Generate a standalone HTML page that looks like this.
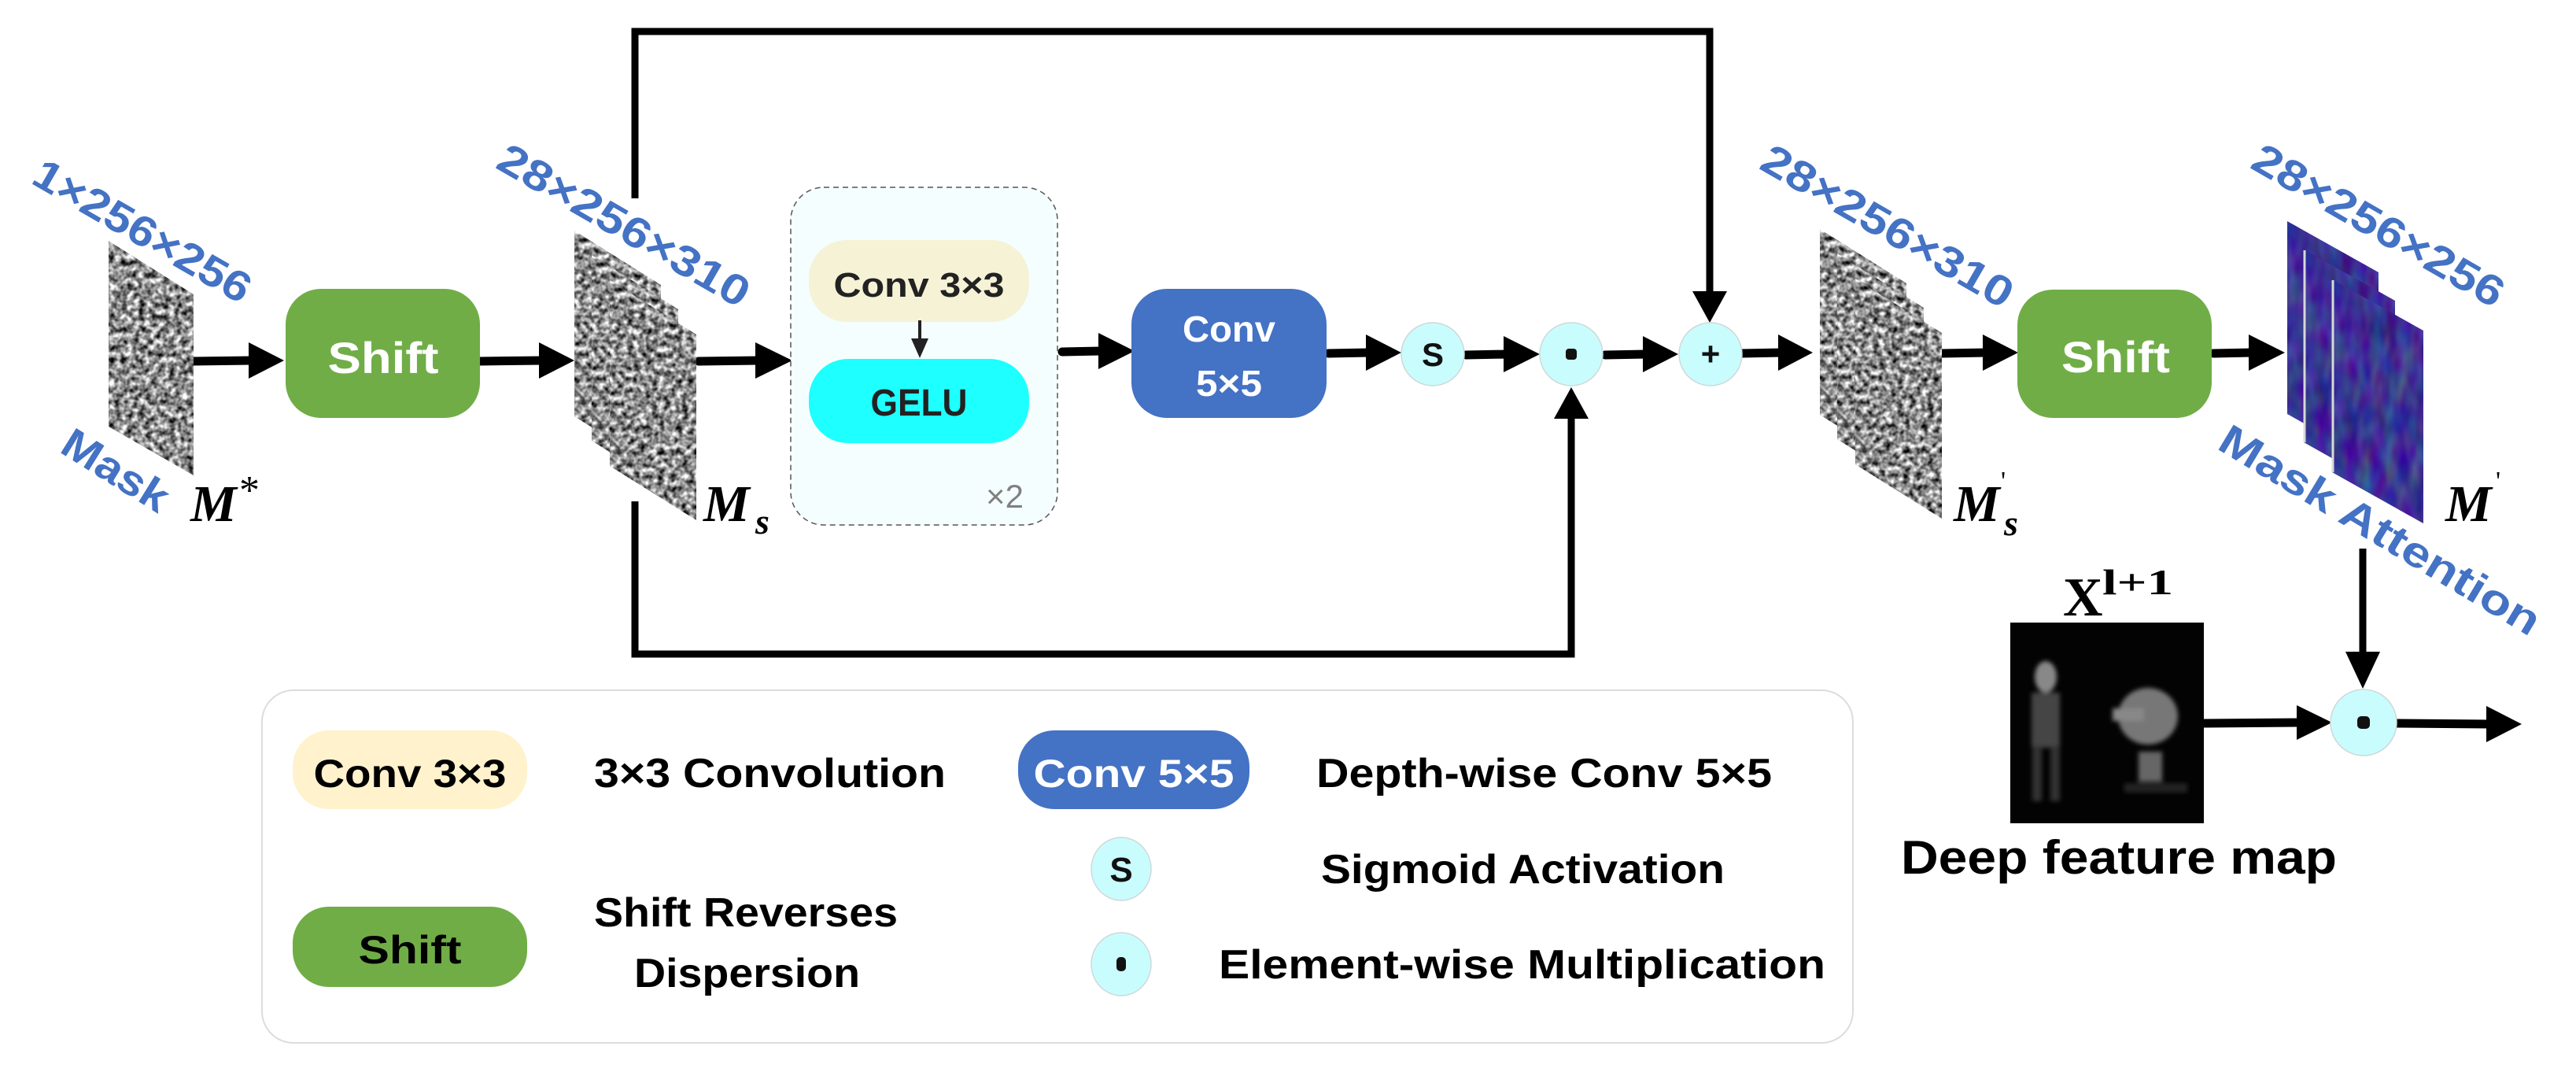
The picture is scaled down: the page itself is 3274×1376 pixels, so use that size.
<!DOCTYPE html>
<html><head><meta charset="utf-8"><style>
html,body{margin:0;padding:0;background:#fff;}
svg{display:block;}
.b{font-family:"Liberation Sans",sans-serif;font-weight:bold;}
.bl{font-family:"Liberation Sans",sans-serif;font-weight:bold;fill:#4472C4;font-size:54px;}
.m{font-family:"Liberation Serif",serif;font-weight:bold;font-style:italic;fill:#000;}
</style></head><body>
<svg width="3274" height="1376" viewBox="0 0 3274 1376" xmlns="http://www.w3.org/2000/svg">
<defs>
<filter id="gray" x="0" y="0" width="100%" height="100%" color-interpolation-filters="sRGB">
<feTurbulence type="fractalNoise" baseFrequency="0.13" numOctaves="2" seed="5" result="t"/>
<feColorMatrix in="t" type="matrix" values="1.7 0 0 0 -0.3  1.7 0 0 0 -0.3  1.7 0 0 0 -0.3  0 0 0 0 1"/>
</filter>
<filter id="blue" x="0" y="0" width="100%" height="100%" color-interpolation-filters="sRGB">
<feTurbulence type="fractalNoise" baseFrequency="0.06 0.025" numOctaves="2" seed="9" result="t"/>
<feColorMatrix in="t" type="matrix" values="0.3 0 0 0 0.08  0 0.5 0 0 -0.05  0 0 0.3 0 0.42  0 0 0 0 1"/>
</filter>
<clipPath id="c1"><polygon points="138,306 246,374 246,604 138,542"/></clipPath>
<clipPath id="cs0"><polygon points="0,0 110,69 110,305 0,236"/></clipPath>
<clipPath id="cb"><polygon points="0,0 116,65 116,310 0,245"/></clipPath>
<filter id="blur4"><feGaussianBlur stdDeviation="3"/></filter>
</defs>

<g stroke="#000" stroke-width="9" fill="none" stroke-linecap="butt">
<polyline points="807,252 807,40 2173,40 2173,372"/>
<polyline points="807,637 807,831 1997,831 1997,528"/>
<line x1="3003" y1="697" x2="3003" y2="830"/>
</g>
<g fill="#000">
<polygon points="2151,370 2195,370 2173,410"/>
<polygon points="1975,532 2019,532 1997,492"/>
<polygon points="2981,828 3025,828 3003,875"/>
</g>

<g stroke="#000" stroke-width="11" stroke-linecap="round">
<line x1="244" y1="459" x2="320" y2="458"/>
<line x1="609" y1="459" x2="690" y2="458"/>
<line x1="888" y1="459" x2="965" y2="458"/>
<line x1="1350" y1="447" x2="1400" y2="446"/>
<line x1="1688" y1="449" x2="1740" y2="448"/>
<line x1="1863" y1="451" x2="1915" y2="450"/>
<line x1="2040" y1="451" x2="2092" y2="450"/>
<line x1="2213" y1="449" x2="2265" y2="448"/>
<line x1="2468" y1="449" x2="2525" y2="448"/>
<line x1="2813" y1="449" x2="2862" y2="448"/>
<line x1="2802" y1="919" x2="2925" y2="918"/>
<line x1="3045" y1="919" x2="3165" y2="920"/>
</g>
<g fill="#000">
<polygon points="316,435 361,458 316,481"/>
<polygon points="685,435 730,458 685,481"/>
<polygon points="960,435 1007,458 960,481"/>
<polygon points="1396,423 1442,446 1396,469"/>
<polygon points="1736,425 1781,448 1736,471"/>
<polygon points="1911,427 1957,450 1911,473"/>
<polygon points="2088,427 2133,450 2088,473"/>
<polygon points="2260,425 2304,448 2260,471"/>
<polygon points="2520,425 2565,448 2520,471"/>
<polygon points="2858,425 2904,448 2858,471"/>
<polygon points="2919,896 2964,918 2919,940"/>
<polygon points="3160,897 3205,920 3160,943"/>
</g>

<g clip-path="url(#c1)"><rect x="130" y="300" width="130" height="310" fill="#888" filter="url(#gray)"/></g>

<g transform="translate(730,293)"><g clip-path="url(#cs0)"><rect width="120" height="310" filter="url(#gray)"/></g></g>
<g transform="translate(752,324)"><g clip-path="url(#cs0)"><rect width="120" height="310" filter="url(#gray)"/></g></g>
<g transform="translate(775,356)"><g clip-path="url(#cs0)"><rect width="120" height="310" filter="url(#gray)"/></g></g>
<g transform="translate(2313,291)"><g clip-path="url(#cs0)"><rect width="120" height="310" filter="url(#gray)"/></g></g>
<g transform="translate(2335,322)"><g clip-path="url(#cs0)"><rect width="120" height="310" filter="url(#gray)"/></g></g>
<g transform="translate(2358,354)"><g clip-path="url(#cs0)"><rect width="120" height="310" filter="url(#gray)"/></g></g>

<g transform="translate(2907,281)"><g clip-path="url(#cb)"><rect width="120" height="320" filter="url(#blue)"/></g></g>
<g transform="translate(2928,317)"><g clip-path="url(#cb)"><rect width="120" height="320" filter="url(#blue)"/></g></g>
<line x1="2929" y1="318" x2="2929" y2="562" stroke="#d8d8d8" stroke-width="3"/>
<g transform="translate(2964,355)"><g clip-path="url(#cb)"><rect width="120" height="320" filter="url(#blue)"/></g></g>
<line x1="2965" y1="356" x2="2965" y2="600" stroke="#d8d8d8" stroke-width="3"/>

<rect x="363" y="367" width="247" height="164" rx="45" fill="#70AD47"/>
<text x="487" y="474" class="b" font-size="56" fill="#fff" text-anchor="middle" textLength="141" lengthAdjust="spacingAndGlyphs">Shift</text>
<rect x="2564" y="368" width="247" height="163" rx="45" fill="#70AD47"/>
<text x="2689" y="473" class="b" font-size="56" fill="#fff" text-anchor="middle" textLength="138" lengthAdjust="spacingAndGlyphs">Shift</text>

<rect x="1005" y="238" width="339" height="429" rx="42" fill="#F5FEFF" stroke="#555" stroke-width="1.5" stroke-dasharray="7,5"/>
<rect x="1028" y="305" width="280" height="104" rx="48" fill="#F5F2D6"/>
<text x="1168" y="377" class="b" font-size="44" fill="#222" text-anchor="middle" textLength="217" lengthAdjust="spacingAndGlyphs">Conv 3×3</text>
<line x1="1169" y1="407" x2="1169" y2="432" stroke="#222" stroke-width="4"/>
<polygon points="1158,430 1180,430 1169,455" fill="#222"/>
<rect x="1028" y="456" width="280" height="107" rx="50" fill="#1EFFFF"/>
<text x="1168" y="528" class="b" font-size="48" fill="#222" text-anchor="middle" textLength="123" lengthAdjust="spacingAndGlyphs">GELU</text>
<text x="1277" y="645" font-family="Liberation Sans,sans-serif" font-size="42" fill="#808080" text-anchor="middle">×2</text>

<rect x="1438" y="367" width="248" height="164" rx="45" fill="#4472C4"/>
<text x="1562" y="434" class="b" font-size="46" fill="#fff" text-anchor="middle" textLength="118" lengthAdjust="spacingAndGlyphs">Conv</text>
<text x="1562" y="503" class="b" font-size="46" fill="#fff" text-anchor="middle" textLength="84" lengthAdjust="spacingAndGlyphs">5×5</text>

<rect x="333" y="877" width="2022" height="448" rx="40" fill="#fff" stroke="#dcdcdc" stroke-width="2"/>

<g fill="#C9FCFD" stroke="#cfd8d8" stroke-width="1.5">
<circle cx="1821" cy="450" r="40"/>
<circle cx="1997" cy="450" r="40"/>
<circle cx="2174" cy="450" r="40"/>
<circle cx="3004" cy="918" r="42"/>
<ellipse cx="1425" cy="1104" rx="38" ry="40"/>
<ellipse cx="1425" cy="1225" rx="38" ry="40"/>
</g>
<text x="1821" y="465" class="b" font-size="42" fill="#111" text-anchor="middle">S</text>
<rect x="1990" y="443" width="14" height="14" rx="4" fill="#111"/>
<text x="2174" y="464" class="b" font-size="42" fill="#111" text-anchor="middle">+</text>
<rect x="2996" y="910" width="16" height="16" rx="5" fill="#111"/>
<text x="1425" y="1120" class="b" font-size="44" fill="#111" text-anchor="middle">S</text>
<rect x="1419" y="1216" width="12" height="18" rx="5" fill="#111"/>

<text class="bl" text-anchor="middle" dominant-baseline="middle" transform="translate(179,297) rotate(30)" textLength="310" lengthAdjust="spacingAndGlyphs">1×256×256</text>
<text class="bl" text-anchor="middle" dominant-baseline="middle" transform="translate(791,290) rotate(30)" textLength="360" lengthAdjust="spacingAndGlyphs">28×256×310</text>
<text class="bl" text-anchor="middle" dominant-baseline="middle" transform="translate(2397,291) rotate(30)" textLength="360" lengthAdjust="spacingAndGlyphs">28×256×310</text>
<text class="bl" text-anchor="middle" dominant-baseline="middle" transform="translate(3021,290) rotate(30)" textLength="360" lengthAdjust="spacingAndGlyphs">28×256×256</text>
<text class="bl" text-anchor="middle" dominant-baseline="middle" transform="translate(145,601) rotate(32)" textLength="150" lengthAdjust="spacingAndGlyphs">Mask</text>
<text class="bl" text-anchor="middle" dominant-baseline="middle" transform="translate(3023,677) rotate(31)" textLength="466" lengthAdjust="spacingAndGlyphs">Mask Attention</text>

<text x="242" y="662" class="m" font-size="66">M</text>
<text x="304" y="640" font-family="Liberation Serif,serif" font-size="52" fill="#000">*</text>
<text x="894" y="662" class="m" font-size="66">M</text>
<text x="960" y="678" class="m" font-size="46">s</text>
<text x="2483" y="662" class="m" font-size="66">M</text>
<text x="2543" y="622" font-family="Liberation Serif,serif" font-size="34" fill="#000">'</text>
<text x="2547" y="680" class="m" font-size="46">s</text>
<text x="3108" y="662" class="m" font-size="66">M</text>
<text x="3172" y="622" font-family="Liberation Serif,serif" font-size="34" fill="#000">'</text>

<rect x="2555" y="791" width="246" height="255" fill="#030303"/>
<g filter="url(#blur4)">
<ellipse cx="2600" cy="860" rx="14" ry="20" fill="#888"/>
<rect x="2582" y="880" width="36" height="70" fill="#444"/>
<rect x="2583" y="948" width="12" height="70" fill="#333"/>
<rect x="2606" y="948" width="12" height="70" fill="#333"/>
<ellipse cx="2730" cy="910" rx="38" ry="36" fill="#777"/>
<rect x="2685" y="900" width="40" height="16" fill="#888"/>
<rect x="2718" y="955" width="30" height="38" fill="#666"/>
<rect x="2700" y="995" width="80" height="12" fill="#222"/>
</g>
<text x="2622" y="782" font-family="Liberation Serif,serif" font-weight="bold" font-size="70" fill="#000">X</text>
<text x="2672" y="755" font-family="Liberation Serif,serif" font-weight="bold" font-size="46" fill="#000" textLength="90" lengthAdjust="spacingAndGlyphs">l+1</text>
<text x="2416" y="1110" class="b" font-size="60" fill="#000" textLength="554" lengthAdjust="spacingAndGlyphs">Deep feature map</text>

<rect x="372" y="928" width="298" height="100" rx="46" fill="#FFF2CC"/>
<text x="521" y="1000" class="b" font-size="50" fill="#000" text-anchor="middle" textLength="245" lengthAdjust="spacingAndGlyphs">Conv 3×3</text>
<text x="755" y="1000" class="b" font-size="52" fill="#000" textLength="447" lengthAdjust="spacingAndGlyphs">3×3 Convolution</text>
<rect x="1294" y="928" width="294" height="100" rx="46" fill="#4472C4"/>
<text x="1441" y="1000" class="b" font-size="50" fill="#fff" text-anchor="middle" textLength="255" lengthAdjust="spacingAndGlyphs">Conv 5×5</text>
<text x="1673" y="1000" class="b" font-size="52" fill="#000" textLength="579" lengthAdjust="spacingAndGlyphs">Depth-wise Conv 5×5</text>
<text x="1679" y="1122" class="b" font-size="52" fill="#000" textLength="513" lengthAdjust="spacingAndGlyphs">Sigmoid Activation</text>
<text x="1549" y="1243" class="b" font-size="52" fill="#000" textLength="771" lengthAdjust="spacingAndGlyphs">Element-wise Multiplication</text>
<rect x="372" y="1152" width="298" height="102" rx="46" fill="#70AD47"/>
<text x="521" y="1224" class="b" font-size="50" fill="#000" text-anchor="middle" textLength="131" lengthAdjust="spacingAndGlyphs">Shift</text>
<text x="755" y="1177" class="b" font-size="52" fill="#000" textLength="386" lengthAdjust="spacingAndGlyphs">Shift Reverses</text>
<text x="806" y="1254" class="b" font-size="52" fill="#000" textLength="287" lengthAdjust="spacingAndGlyphs">Dispersion</text>
</svg>
</body></html>
